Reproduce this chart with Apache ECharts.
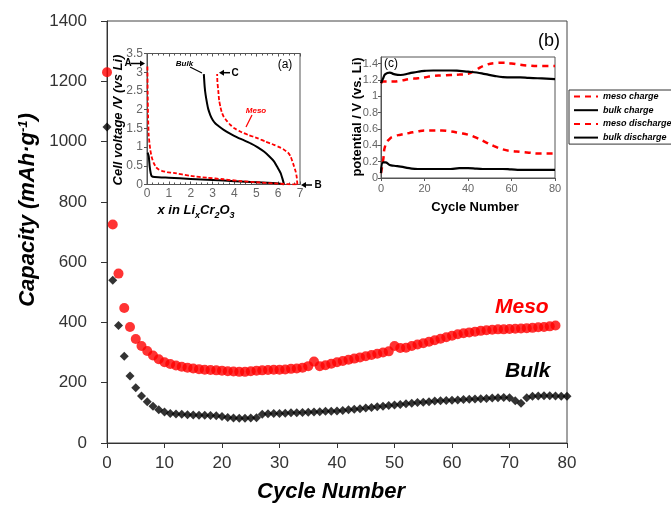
<!DOCTYPE html>
<html>
<head>
<meta charset="utf-8">
<script src="https://cdn.jsdelivr.net/npm/echarts@6.0.0/dist/echarts.min.js"></script>
<style>
  html, body { margin: 0; padding: 0; background: #fff; }
  #chart { width: 671px; height: 507px; }
</style>
</head>
<body>
<div id="chart"></div>
<script>
// main plot: capacity per cycle (index = cycle number)
const mesoCapacity = [
  1230, 725, 562, 448, 385, 345, 322, 305, 290, 278,
  268, 262, 257, 253, 250, 247, 245, 243, 242, 241,
  240, 238, 237, 236, 236, 238, 240, 241, 242, 243,
  243, 244, 246, 247, 250, 255, 270, 255, 258, 263,
  268, 272, 276, 280, 284, 288, 292, 296, 300, 304,
  322, 315, 316, 322, 327, 331, 336, 341, 346, 351,
  356, 361, 364, 367, 369, 372, 374, 376, 377, 377,
  378, 379, 380, 381, 382, 384, 385, 387, 390
];
const bulkCapacity = [
  1048, 540, 390, 288, 222, 183, 156, 137, 122, 110,
  103, 98, 96, 95, 94, 93, 92, 92, 91, 90,
  88, 85, 83, 82, 82, 83, 84, 95, 97, 98,
  98, 99, 100, 100, 101, 102, 103, 104, 105, 105,
  106, 108, 110, 112, 114, 116, 118, 120, 122, 124,
  126, 128, 130, 132, 134, 135, 137, 139, 140, 141,
  142, 143, 144, 145, 146, 147, 148, 149, 150, 151,
  150, 140, 132, 150, 155, 156, 157, 157, 156, 155, 155
];

// inset (a): voltage profiles, x in LixCr2O3
const bulkDisX = [0.03, 0.08, 0.12, 0.17, 0.22, 0.35, 1, 2, 3, 4, 5, 6, 6.27];
const bulkDisV = [0.85, 0.75, 0.5, 0.3, 0.22, 0.2, 0.18, 0.15, 0.12, 0.09, 0.06, 0.03, 0];
const bulkChgX = [6.27, 6.2, 6.11, 5.95, 5.81, 5.6, 5.35, 5.05, 4.74, 4.4, 4.13, 3.8, 3.51, 3.3, 3.13, 3.0, 2.9, 2.8, 2.75, 2.68, 2.64, 2.6];
const bulkChgV = [0, 0.15, 0.31, 0.48, 0.62, 0.75, 0.88, 1.0, 1.1, 1.19, 1.26, 1.36, 1.46, 1.55, 1.63, 1.73, 1.85, 2.02, 2.16, 2.4, 2.6, 2.95];
const mesoDisX = [0.02, 0.03, 0.05, 0.08, 0.15, 0.22, 0.31, 0.42, 0.54, 0.7, 0.92, 1.22, 2, 2.75, 3.5, 4.28, 5, 5.81, 6.4, 6.88];
const mesoDisV = [3.15, 2.5, 1.8, 1.3, 0.93, 0.72, 0.57, 0.46, 0.4, 0.36, 0.33, 0.31, 0.23, 0.18, 0.14, 0.09, 0.06, 0.03, 0.01, 0];
const mesoChgX = [6.88, 6.85, 6.8, 6.73, 6.57, 6.45, 6.27, 6.05, 5.81, 5.4, 5.05, 4.65, 4.28, 4.0, 3.82, 3.65, 3.51, 3.42, 3.36, 3.3, 3.26, 3.22, 3.21];
const mesoChgV = [0, 0.2, 0.35, 0.48, 0.75, 0.85, 0.93, 1.0, 1.06, 1.15, 1.24, 1.32, 1.41, 1.5, 1.59, 1.7, 1.81, 1.93, 2.07, 2.25, 2.51, 2.75, 2.95];

// inset (c): average potentials vs cycle
const cycleC = [0, 1, 2, 4, 6, 9, 13, 17, 20, 24, 28, 32, 36, 40, 44, 48, 52, 56, 60, 64, 68, 72, 76, 80];
const mesoCharge = [1.16, 1.18, 1.18, 1.18, 1.18, 1.19, 1.21, 1.22, 1.23, 1.25, 1.255, 1.26, 1.265, 1.275, 1.33, 1.38, 1.405, 1.41, 1.4, 1.385, 1.375, 1.37, 1.37, 1.37];
const bulkCharge = [1.16, 1.22, 1.27, 1.29, 1.27, 1.26, 1.28, 1.3, 1.31, 1.315, 1.315, 1.315, 1.31, 1.3, 1.29, 1.27, 1.25, 1.235, 1.23, 1.23, 1.225, 1.22, 1.215, 1.21];
const mesoDischarge = [0.06, 0.22, 0.4, 0.48, 0.51, 0.53, 0.55, 0.57, 0.58, 0.58, 0.58, 0.57, 0.55, 0.53, 0.49, 0.44, 0.39, 0.35, 0.33, 0.32, 0.31, 0.3, 0.3, 0.3];
const bulkDischarge = [0.06, 0.19, 0.19, 0.16, 0.15, 0.14, 0.12, 0.11, 0.11, 0.11, 0.11, 0.11, 0.12, 0.12, 0.115, 0.11, 0.11, 0.11, 0.105, 0.1, 0.1, 0.1, 0.1, 0.1];

const FONT = 'Liberation Sans, Arial, sans-serif';
const RED = '#ff0000';

function pairs(xs, ys) {
  return xs.map(function (x, i) { return [x, ys[i]]; });
}

// arrow from (x1,y1) to tip (x2,y2)
function arrow(x1, y1, x2, y2) {
  const dx = x2 - x1, dy = y2 - y1;
  const len = Math.sqrt(dx * dx + dy * dy);
  const ux = dx / len, uy = dy / len;
  const bx = x2 - ux * 5, by = y2 - uy * 5;
  return [
    { type: 'line', shape: { x1: x1, y1: y1, x2: bx, y2: by }, style: { stroke: '#000', lineWidth: 1.5 } },
    { type: 'polygon', shape: { points: [[x2, y2], [bx - uy * 3, by + ux * 3], [bx + uy * 3, by - ux * 3]] }, style: { fill: '#000' } }
  ];
}

function label(text, x, y, opt) {
  return {
    type: 'text', x: x, y: y, rotation: opt.rotation || 0,
    style: Object.assign({
      text: text, fontFamily: FONT, fill: '#000',
      align: 'center', verticalAlign: 'middle'
    }, opt.style)
  };
}

const chart = echarts.init(document.getElementById('chart'));

const graphics = [
  label('{a|Capacity (mAh·g}{s|-1}{a|)}', 28, 210, {
    rotation: Math.PI / 2,
    style: {
      rich: {
        a: { fontSize: 22, fontWeight: 'bold', fontStyle: 'italic', fontFamily: FONT },
        s: { fontSize: 13, fontWeight: 'bold', fontStyle: 'italic', fontFamily: FONT, verticalAlign: 'top' }
      }
    }
  }),
  label('Cycle Number', 331, 492, { style: { fontSize: 22, fontWeight: 'bold', fontStyle: 'italic' } }),
  label('Meso', 495, 307, { style: { align: 'left', fontSize: 21, fontWeight: 'bold', fontStyle: 'italic', fill: RED } }),
  label('Bulk', 505, 371, { style: { align: 'left', fontSize: 21, fontWeight: 'bold', fontStyle: 'italic' } }),
  label('(b)', 538, 41, { style: { align: 'left', fontSize: 18 } }),
  // inset (a)
  label('Cell voltage /V (vs Li)', 118, 120, {
    rotation: Math.PI / 2,
    style: { fontSize: 13, fontWeight: 'bold', fontStyle: 'italic' }
  }),
  label('{a|x in Li}{b|x}{a|Cr}{b|2}{a|O}{b|3}', 196, 211, {
    style: {
      rich: {
        a: { fontSize: 13, lineHeight: 14, fontWeight: 'bold', fontStyle: 'italic', fontFamily: FONT, verticalAlign: 'top' },
        b: { fontSize: 9, lineHeight: 9, fontWeight: 'bold', fontStyle: 'italic', fontFamily: FONT, verticalAlign: 'top', padding: [7, 0, 0, 0] }
      }
    }
  }),
  label('(a)', 285, 65, { style: { fontSize: 12 } }),
  label('A', 128, 63.5, { style: { fontSize: 10, fontWeight: 'bold' } }),
  label('B', 318, 185, { style: { fontSize: 10, fontWeight: 'bold' } }),
  label('C', 235, 73, { style: { fontSize: 10, fontWeight: 'bold' } }),
  label('Bulk', 184.5, 64, { style: { fontSize: 8, fontWeight: 'bold', fontStyle: 'italic' } }),
  label('Meso', 256, 111, { style: { fontSize: 8, fontWeight: 'bold', fontStyle: 'italic', fill: RED } }),
  { type: 'line', shape: { x1: 190, y1: 67, x2: 202, y2: 73 }, style: { stroke: '#000', lineWidth: 1.2 } },
  { type: 'line', shape: { x1: 252, y1: 115, x2: 246, y2: 127 }, style: { stroke: RED, lineWidth: 1.2 } },
  // inset (c)
  label('potential / V (vs. Li)', 357, 117, {
    rotation: Math.PI / 2,
    style: { fontSize: 13, fontWeight: 'bold' }
  }),
  label('Cycle Number', 475, 207, { style: { fontSize: 13, fontWeight: 'bold' } }),
  label('(c)', 384, 64, { style: { align: 'left', fontSize: 12 } })
]
  .concat(arrow(131, 63.5, 145, 63.5))
  .concat(arrow(230, 72.7, 219, 72.7))
  .concat(arrow(312, 185, 301, 185));

const plain = function (v) { return String(v); };
const mainAxisLabel = { fontFamily: FONT, fontSize: 17, color: '#333', formatter: plain };
const insetAxisLine = { lineStyle: { color: '#555', width: 1 } };

const option = {
  backgroundColor: '#fff',
  animation: false,
  grid: [
    { left: 107, top: 21, width: 460, height: 422, show: true, borderColor: '#444', borderWidth: 1 },
    { left: 147, top: 53.5, width: 153, height: 131, show: true, borderColor: '#555', borderWidth: 1, backgroundColor: '#fff' },
    { left: 381, top: 57, width: 174, height: 121, show: true, borderColor: '#555', borderWidth: 1, backgroundColor: '#fff' }
  ],
  xAxis: [
    {
      gridIndex: 0, type: 'value', min: 0, max: 80, interval: 10,
      axisLine: { lineStyle: { color: '#333' } },
      axisTick: { length: 5, lineStyle: { color: '#333' } },
      axisLabel: Object.assign({ margin: 12 }, mainAxisLabel),
      splitLine: { show: false }
    },
    {
      gridIndex: 1, type: 'value', min: 0, max: 7, interval: 1,
      axisLine: insetAxisLine,
      axisTick: { inside: true, length: 3 },
      minorTick: { show: true, splitNumber: 4, length: 2 },
      axisLabel: { fontFamily: FONT, fontSize: 12, color: '#666', margin: 3 },
      splitLine: { show: false }
    },
    {
      gridIndex: 1, type: 'value', position: 'top', min: 0, max: 7, interval: 1,
      axisLine: insetAxisLine,
      axisTick: { inside: true, length: 3 },
      minorTick: { show: true, splitNumber: 4, length: 2 },
      axisLabel: { show: false },
      splitLine: { show: false }
    },
    {
      gridIndex: 2, type: 'value', min: 0, max: 80, interval: 20,
      axisLine: insetAxisLine,
      axisTick: { length: 3 },
      axisLabel: { fontFamily: FONT, fontSize: 11, color: '#666', margin: 5 },
      splitLine: { show: false }
    }
  ],
  yAxis: [
    {
      gridIndex: 0, type: 'value', min: 0, max: 1400, interval: 200,
      axisLine: { show: true, lineStyle: { color: '#333' } },
      axisTick: { show: true, length: 6, lineStyle: { color: '#333' } },
      axisLabel: Object.assign({ margin: 20 }, mainAxisLabel),
      splitLine: { show: false }
    },
    {
      gridIndex: 1, type: 'value', min: 0, max: 3.5, interval: 0.5,
      axisLine: Object.assign({ show: true }, insetAxisLine),
      axisTick: { show: true, length: 3 },
      axisLabel: { fontFamily: FONT, fontSize: 12, color: '#666', margin: 4 },
      splitLine: { show: false }
    },
    {
      gridIndex: 2, type: 'value', min: 0, max: 1.48, interval: 0.2,
      axisLine: Object.assign({ show: true }, insetAxisLine),
      axisTick: { show: true, length: 3 },
      axisLabel: { fontFamily: FONT, fontSize: 11, color: '#666', margin: 3, showMaxLabel: false },
      splitLine: { show: false }
    }
  ],
  legend: {
    data: ['meso charge', 'bulk charge', 'meso discharge', 'bulk discharge'],
    orient: 'vertical',
    left: 569, top: 90,
    padding: [2, 10, 2, 4],
    itemWidth: 24, itemHeight: 10, itemGap: 4.7,
    borderColor: '#333', borderWidth: 1,
    backgroundColor: '#fff',
    selectedMode: false,
    itemStyle: { opacity: 0 },
    textStyle: { fontFamily: FONT, fontSize: 9, fontWeight: 'bold', fontStyle: 'italic', color: '#000' }
  },
  graphic: graphics,
  series: [
    {
      name: 'Meso', type: 'scatter', xAxisIndex: 0, yAxisIndex: 0,
      symbol: 'circle', symbolSize: 10, clip: false,
      itemStyle: { color: RED },
      data: mesoCapacity.map(function (v, i) { return [i, v]; })
    },
    {
      name: 'Bulk', type: 'scatter', xAxisIndex: 0, yAxisIndex: 0,
      symbol: 'diamond', symbolSize: 9, clip: false,
      itemStyle: { color: '#000' },
      data: bulkCapacity.map(function (v, i) { return [i, v]; })
    },
    // inset (a)
    {
      name: 'bulk profile discharge', type: 'line', xAxisIndex: 1, yAxisIndex: 1,
      symbol: 'none', smooth: 0.2, lineStyle: { color: '#000', width: 2 },
      data: pairs(bulkDisX, bulkDisV)
    },
    {
      name: 'bulk profile charge', type: 'line', xAxisIndex: 1, yAxisIndex: 1,
      symbol: 'none', smooth: 0.2, lineStyle: { color: '#000', width: 2 },
      data: pairs(bulkChgX, bulkChgV)
    },
    {
      name: 'meso profile discharge', type: 'line', xAxisIndex: 1, yAxisIndex: 1,
      symbol: 'none', smooth: 0.2, lineStyle: { color: RED, width: 1.8, type: [4, 2] },
      data: pairs(mesoDisX, mesoDisV)
    },
    {
      name: 'meso profile charge', type: 'line', xAxisIndex: 1, yAxisIndex: 1,
      symbol: 'none', smooth: 0.2, lineStyle: { color: RED, width: 1.8, type: [4, 2] },
      data: pairs(mesoChgX, mesoChgV)
    },
    // inset (c)
    {
      name: 'meso charge', type: 'line', xAxisIndex: 3, yAxisIndex: 2,
      symbol: 'none', smooth: true, color: RED,
      lineStyle: { color: RED, width: 2.5, type: [6, 5] },
      data: pairs(cycleC, mesoCharge)
    },
    {
      name: 'bulk charge', type: 'line', xAxisIndex: 3, yAxisIndex: 2,
      symbol: 'none', smooth: true, color: '#000',
      lineStyle: { color: '#000', width: 2.2 },
      data: pairs(cycleC, bulkCharge)
    },
    {
      name: 'meso discharge', type: 'line', xAxisIndex: 3, yAxisIndex: 2,
      symbol: 'none', smooth: true, color: RED,
      lineStyle: { color: RED, width: 2.5, type: [6, 5] },
      data: pairs(cycleC, mesoDischarge)
    },
    {
      name: 'bulk discharge', type: 'line', xAxisIndex: 3, yAxisIndex: 2,
      symbol: 'none', smooth: true, color: '#000',
      lineStyle: { color: '#000', width: 2.2 },
      data: pairs(cycleC, bulkDischarge)
    }
  ]
};

chart.setOption(option);
</script>
</body>
</html>
